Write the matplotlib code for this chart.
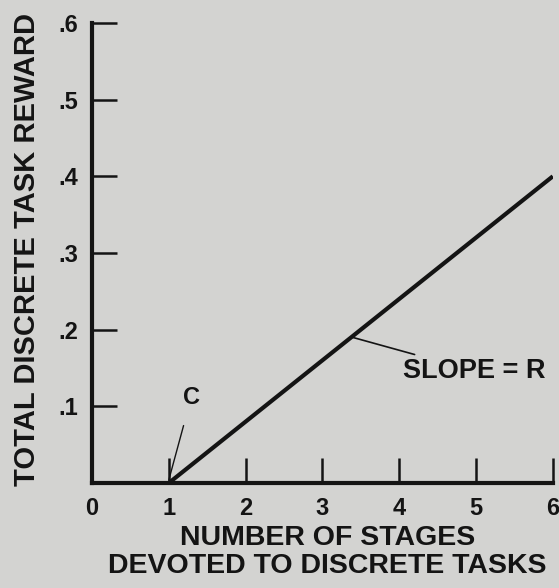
import matplotlib
matplotlib.use("Agg")
import matplotlib.pyplot as plt

# data
x_line = [1, 6]
y_line = [0.0, 0.4]
x_ticks = [0, 1, 2, 3, 4, 5, 6]
x_ticklabels = ["0", "1", "2", "3", "4", "5", "6"]
y_ticks = [0.1, 0.2, 0.3, 0.4, 0.5, 0.6]
y_ticklabels = [".1", ".2", ".3", ".4", ".5", ".6"]
xlabel = "NUMBER OF STAGES\nDEVOTED TO DISCRETE TASKS"
ylabel = "TOTAL DISCRETE TASK REWARD"

bg = "#d3d3d1"
ink = "#141414"

plt.rcParams['font.family'] = ['Liberation Sans', 'DejaVu Sans']
plt.rcParams['font.weight'] = 'bold'

fig = plt.figure(figsize=(5.59, 5.88), dpi=100, facecolor=bg)
ax = fig.add_axes([0.1646, 0.1786, 0.8244, 0.7824], facecolor=bg)

ax.plot(x_line, y_line, color=ink, lw=3.0, solid_capstyle='butt')

ax.set_xlim(0, 6)
ax.set_ylim(0, 0.6)
for s in ['top', 'right']:
    ax.spines[s].set_visible(False)
for s in ['left', 'bottom']:
    ax.spines[s].set_linewidth(3.0)
    ax.spines[s].set_color(ink)

ax.set_xticks(x_ticks[1:])
ax.set_xticklabels([])
ax.set_yticks(y_ticks)
ax.set_yticklabels(y_ticklabels, fontsize=17, color=ink, fontweight='bold')
ax.tick_params(axis='both', direction='in', length=18, width=1.8, color=ink)
ax.tick_params(axis='y', pad=10)

# x tick labels (including 0 at origin)
for xv, lab in zip(x_ticks, x_ticklabels):
    ax.text(xv, -0.018, lab, ha='center', va='top', fontsize=17, color=ink,
            fontweight='bold', transform=ax.transData, clip_on=False)

fig.text(0.586, 0.061, xlabel, ha='center', va='center', fontsize=20.5,
         color=ink, linespacing=1.1, fontweight='bold')
fig.text(0.048, 0.575, ylabel, ha='center', va='center', rotation=90,
         fontsize=21, color=ink, fontweight='bold')

# annotations
ax.annotate("C", xy=(1.0, 0.004), xytext=(1.29, 0.111), fontsize=17,
            color=ink, ha='center', va='center', fontweight='bold',
            arrowprops=dict(arrowstyle='-', color=ink, lw=1.0,
                            shrinkA=10, shrinkB=0))
ax.annotate("SLOPE = R", xy=(3.39, 0.19), xytext=(4.05, 0.146),
            fontsize=19.5, color=ink, ha='left', va='center', fontweight='bold',
            arrowprops=dict(arrowstyle='-', color=ink, lw=1.2,
                            shrinkA=2, shrinkB=0))

fig.savefig("out.png", dpi=100, facecolor=bg)
